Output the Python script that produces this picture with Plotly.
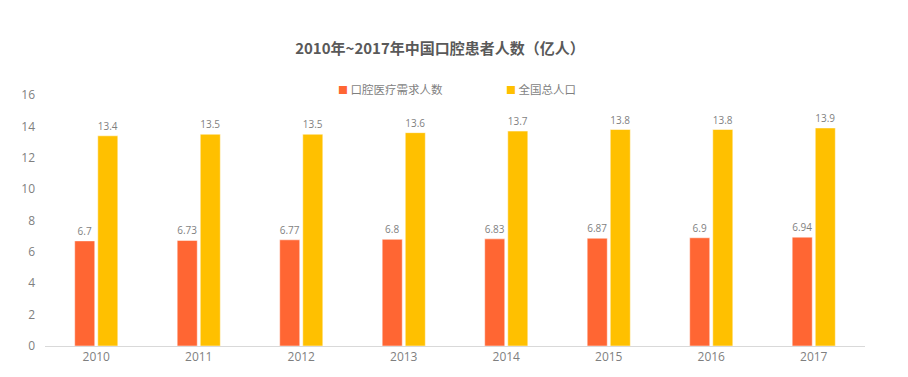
import plotly.graph_objects as go

years = ["2010", "2011", "2012", "2013", "2014", "2015", "2016", "2017"]
demand = [6.7, 6.73, 6.77, 6.8, 6.83, 6.87, 6.9, 6.94]
population = [13.4, 13.5, 13.5, 13.6, 13.7, 13.8, 13.8, 13.9]
demand_name = "口腔医疗需求人数"
pop_name = "全国总人口"
title = "2010年~2017年中国口腔患者人数（亿人）"

C_DEMAND = "#FF6633"
C_POP = "#FFC000"
FONT = "Open Sans, Noto Sans CJK SC, sans-serif"
CJK = "Noto Sans CJK SC, sans-serif"

# page body has an 8px default margin, so figure coords = screen coords - 8
OFF = 8

fig = go.Figure()
fig.add_trace(go.Bar(x=years, y=demand, name=demand_name, showlegend=False,
                     marker=dict(color=C_DEMAND, line=dict(color="white", width=0.5)),
                     text=[f"{v:g}" for v in demand], textposition="outside",
                     textfont=dict(size=10, color="#7f7f7f", family=FONT), cliponaxis=False))
fig.add_trace(go.Bar(x=years, y=population, name=pop_name, showlegend=False,
                     marker=dict(color=C_POP, line=dict(color="white", width=0.5)),
                     text=[f"{v:g}" for v in population], textposition="outside",
                     textfont=dict(size=10, color="#7f7f7f", family=FONT), cliponaxis=False))

# legend rendered as text annotations (compact symbol/text spacing as in reference)
for name, color, xpos in [(demand_name, C_DEMAND, 336), (pop_name, C_POP, 504)]:
    fig.add_annotation(xref="paper", yref="paper", x=(xpos - 45) / 820, y=1 + (95 - 89) / 251,
                       xanchor="left", yanchor="middle", showarrow=False,
                       text=f"<span style='color:{color};font-size:10px'>■</span> {name}",
                       font=dict(size=11.5, color="#7f7f7f", family=CJK))

fig.update_layout(
    width=908, height=377,
    margin=dict(l=45 - OFF, r=908 - (865 - OFF), t=95 - OFF, b=377 - (346 - OFF)),
    paper_bgcolor="white", plot_bgcolor="white",
    font=dict(family=FONT, color="#7f7f7f", size=12),
    title=dict(text=f"<b>{title}</b>", x=(440 - OFF) / 908, xanchor="center",
               xref="container", yref="container", y=1 - (49 - OFF) / 377, yanchor="middle",
               font=dict(size=15, color="#595959", family=CJK)),
    barmode="group", bargap=0.55, bargroupgap=0.13,
    showlegend=False,
    xaxis=dict(showline=True, linecolor="#d9d9d9", linewidth=1, ticks="",
               tickfont=dict(size=12, color="#7f7f7f"), showgrid=False, automargin=False),
    yaxis=dict(range=[0, 16], dtick=2, showgrid=False, zeroline=False, showline=False,
               tickfont=dict(size=12, color="#7f7f7f"), ticks="", ticklabelstandoff=9,
               automargin=False),
)

fig.write_html("out.html")
